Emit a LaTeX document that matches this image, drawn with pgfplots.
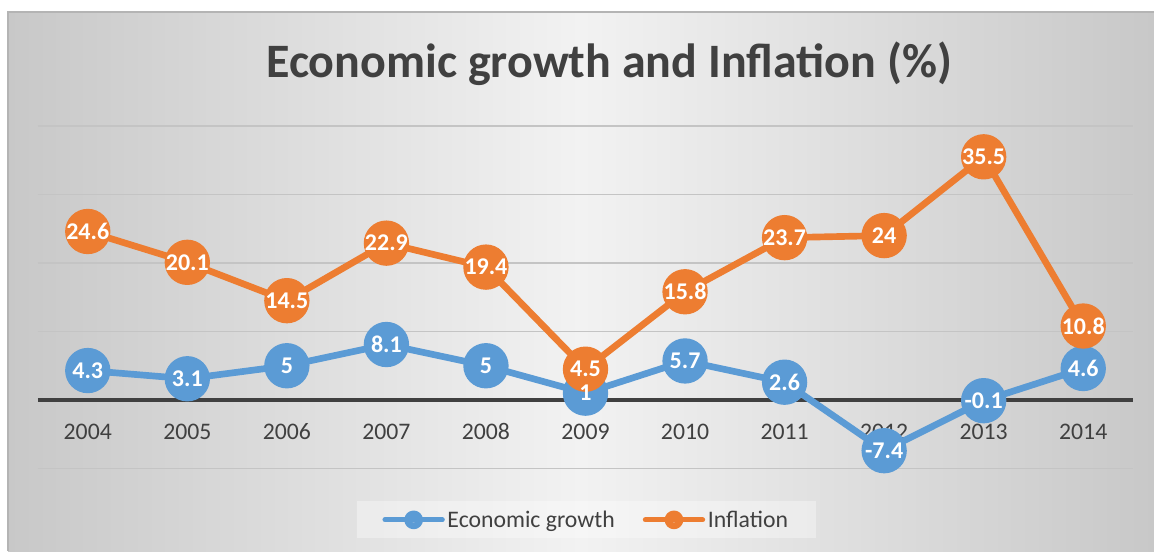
\documentclass[border=0pt]{standalone}
\usepackage{pgfplots}
\pgfplotsset{compat=1.18}
\usepackage{fontspec}
\setmainfont{Carlito}
\definecolor{cblue}{HTML}{5B9BD5}
\definecolor{corange}{HTML}{ED7D31}
\definecolor{ctext}{HTML}{404040}
\definecolor{bgE}{HTML}{C8C8C8}
\definecolor{bgM}{HTML}{F2F2F2}
\definecolor{cgrid}{HTML}{C4C4C4}
\begin{document}
\begin{tikzpicture}
\useasboundingbox (0,0) rectangle (865.5pt,413.25pt);
\fill[white] (0,0) rectangle (865.5pt,413.25pt);
\shade[left color=bgE, right color=bgE, middle color=bgM] (6pt,0pt) rectangle (865.5pt,404.25pt);
\draw[color=bgE!90!black, line width=1pt] (6pt,0pt) -- (6pt,404.25pt) -- (865.5pt,404.25pt);
\begin{axis}[
  at={(28.5pt,61.875pt)}, anchor=south west,
  width=821.25pt, height=256.875pt, scale only axis,
  xmin=-0.5, xmax=10.5, ymin=-10, ymax=40,
  axis line style={draw=none},
  major tick length=0pt,
  ytick={-10,0,10,20,30,40}, yticklabels={},
  ymajorgrids, grid style={color=cgrid, line width=1pt},
  xtick={0,1,2,3,4,5,6,7,8,9,10},
  xticklabels={2004,2005,2006,2007,2008,2009,2010,2011,2012,2013,2014},
  xticklabel style={font=\fontsize{17.8}{21}\selectfont, text=ctext,
    text height=11.5pt, text depth=0pt, anchor=north, yshift=36.5pt},
  clip=false,
  title={Economic growth and Inflation (\%)},
  title style={at={(axis description cs:0.5215,1.158)}, anchor=center,
    font=\fontsize{36}{43}\selectfont\bfseries, text=ctext},
  legend columns=2,
  legend style={at={(axis description cs:0.501,-0.150)}, anchor=center,
    draw=none, fill=white, fill opacity=0.35, text opacity=1,
    font=\fontsize{17.8}{21}\selectfont, text=ctext,
    inner xsep=19pt, inner ysep=5pt,
    /tikz/every even column/.append style={column sep=19pt}},
  /pgf/number format/assume math mode=true,
  /pgf/number format/fixed, /pgf/number format/precision=1,
  every node near coord/.append style={anchor=center, text=white,
    font=\fontsize{18}{21}\selectfont\bfseries},
]
\addplot[color=ctext, line width=3pt, forget plot] coordinates {(-0.5,0) (10.5,0)};
\addplot[color=cblue, line width=5pt, line join=round, mark=*, mark size=16.5pt,
  mark options={line width=1pt},
  legend image code/.code={\draw[cblue, line width=3.75pt, line cap=round] (0pt,0pt) -- (43pt,0pt);
    \fill[cblue] (21.5pt,0pt) circle (4.5pt);}]
coordinates {(0,4.3) (1,3.1) (2,5) (3,8.1) (4,5) (5,1) (6,5.7) (7,2.6) (8,-7.4) (9,-0.1) (10,4.6)};
\addlegendentry{Economic growth}
\addplot[color=corange, line width=5pt, line join=round, mark=*, mark size=16.5pt,
  mark options={line width=1pt},
  legend image code/.code={\draw[corange, line width=3.75pt, line cap=round] (0pt,0pt) -- (43pt,0pt);
    \fill[corange] (21.5pt,0pt) circle (4.5pt);}]
coordinates {(0,24.6) (1,20.1) (2,14.5) (3,22.9) (4,19.4) (5,4.5) (6,15.8) (7,23.7) (8,24) (9,35.5) (10,10.8)};
\addlegendentry{Inflation}
\addplot[draw=none, forget plot, nodes near coords]
coordinates {(0,4.3) (1,3.1) (2,5) (3,8.1) (4,5) (5,1) (6,5.7) (7,2.6) (8,-7.4) (9,-0.1) (10,4.6)};
\addplot[draw=none, forget plot, nodes near coords]
coordinates {(0,24.6) (1,20.1) (2,14.5) (3,22.9) (4,19.4) (5,4.5) (6,15.8) (7,23.7) (8,24) (9,35.5) (10,10.8)};
\end{axis}
\end{tikzpicture}
\end{document}
